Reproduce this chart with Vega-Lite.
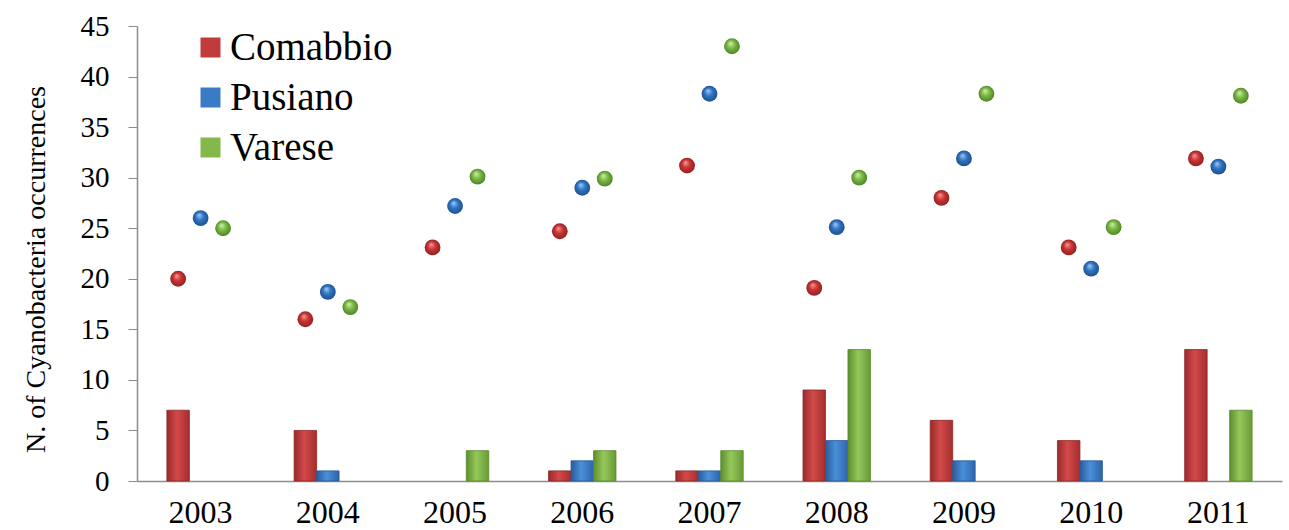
{
  "$schema": "https://vega.github.io/schema/vega-lite/v6.json",
  "width": 1145,
  "height": 455,
  "autosize": {"type": "none"},
  "padding": {"left": 137, "top": 26, "right": 7, "bottom": 49},
  "background": "white",
  "config": {
    "view": {"stroke": null},
    "font": "Liberation Serif",
    "axisY": {
      "values": [0, 5, 10, 15, 20, 25, 30, 35, 40, 45],
      "grid": false,
      "titleFont": "Liberation Serif",
      "titleFontSize": 28,
      "titleFontWeight": "normal",
      "titleColor": "#000000",
      "titleX": -101,
      "titleY": 243,
      "titleBaseline": "middle",
      "labelFont": "Liberation Serif",
      "labelFontSize": 29,
      "labelColor": "#000000",
      "labelPadding": 19,
      "tickSize": 9,
      "tickColor": "#8c8c8c",
      "domainColor": "#8c8c8c",
      "domainWidth": 1.5
    },
    "axisX": {
      "labelAngle": 0,
      "labelFont": "Liberation Serif",
      "labelFontSize": 32,
      "labelColor": "#000000",
      "labelPadding": 16,
      "ticks": false,
      "domainColor": "#8c8c8c",
      "domainWidth": 1.5
    },
    "legend": {"labelFont": "Liberation Serif", "labelLimit": 400}
  },
  "data": {
    "values": [
      {"year": "2003", "lake": "Comabbio", "bars": 7, "total": 20.0},
      {"year": "2003", "lake": "Pusiano", "bars": 0, "total": 26.0},
      {"year": "2003", "lake": "Varese", "bars": 0, "total": 25.0},
      {"year": "2004", "lake": "Comabbio", "bars": 5, "total": 16.0},
      {"year": "2004", "lake": "Pusiano", "bars": 1, "total": 18.7},
      {"year": "2004", "lake": "Varese", "bars": 0, "total": 17.2},
      {"year": "2005", "lake": "Comabbio", "bars": 0, "total": 23.1},
      {"year": "2005", "lake": "Pusiano", "bars": 0, "total": 27.2},
      {"year": "2005", "lake": "Varese", "bars": 3, "total": 30.1},
      {"year": "2006", "lake": "Comabbio", "bars": 1, "total": 24.7},
      {"year": "2006", "lake": "Pusiano", "bars": 2, "total": 29.0},
      {"year": "2006", "lake": "Varese", "bars": 3, "total": 29.9},
      {"year": "2007", "lake": "Comabbio", "bars": 1, "total": 31.2},
      {"year": "2007", "lake": "Pusiano", "bars": 1, "total": 38.3},
      {"year": "2007", "lake": "Varese", "bars": 3, "total": 43.0},
      {"year": "2008", "lake": "Comabbio", "bars": 9, "total": 19.1},
      {"year": "2008", "lake": "Pusiano", "bars": 4, "total": 25.1},
      {"year": "2008", "lake": "Varese", "bars": 13, "total": 30.0},
      {"year": "2009", "lake": "Comabbio", "bars": 6, "total": 28.0},
      {"year": "2009", "lake": "Pusiano", "bars": 2, "total": 31.9},
      {"year": "2009", "lake": "Varese", "bars": 0, "total": 38.3},
      {"year": "2010", "lake": "Comabbio", "bars": 4, "total": 23.1},
      {"year": "2010", "lake": "Pusiano", "bars": 2, "total": 21.0},
      {"year": "2010", "lake": "Varese", "bars": 0, "total": 25.1},
      {"year": "2011", "lake": "Comabbio", "bars": 13, "total": 31.9},
      {"year": "2011", "lake": "Pusiano", "bars": 0, "total": 31.1},
      {"year": "2011", "lake": "Varese", "bars": 7, "total": 38.1}
    ]
  },
  "encoding": {
    "x": {
      "field": "year",
      "type": "nominal",
      "title": null,
      "scale": {"paddingInner": 0.47, "paddingOuter": 0.235}
    },
    "xOffset": {
      "field": "lake",
      "type": "nominal",
      "sort": ["Comabbio", "Pusiano", "Varese"],
      "scale": {"domain": ["Comabbio", "Pusiano", "Varese"], "paddingInner": 0, "paddingOuter": 0}
    },
    "color": {
      "field": "lake",
      "type": "nominal",
      "sort": ["Comabbio", "Pusiano", "Varese"],
      "scale": {"domain": ["Comabbio", "Pusiano", "Varese"], "range": ["#c23b3b", "#3a7bc6", "#84b84a"]},
      "legend": {
        "title": null,
        "orient": "none",
        "legendX": 54,
        "legendY": 2,
        "symbolType": "square",
        "symbolSize": 400,
        "symbolOpacity": 1,
        "symbolStrokeWidth": 0,
        "labelFont": "Liberation Serif",
        "labelFontSize": 39,
        "labelLimit": 400,
        "labelColor": "#000000",
        "labelOffset": 0,
        "rowPadding": 10
      }
    }
  },
  "layer": [
    {
      "transform": [{"filter": "datum.lake === 'Comabbio' && datum.bars > 0"}],
      "mark": {
        "type": "bar",
        "stroke": "#8f2626",
        "strokeWidth": 0.8,
        "fill": {
          "gradient": "linear", "x1": 0, "y1": 0, "x2": 1, "y2": 0,
          "stops": [
            {"offset": 0, "color": "#9a2a2a"},
            {"offset": 0.45, "color": "#d24a4a"},
            {"offset": 1, "color": "#a52e2e"}
          ]
        }
      },
      "encoding": {
        "y": {"field": "bars", "type": "quantitative", "scale": {"domain": [0, 45]}, "title": "N. of  Cyanobacteria occurrences"}
      }
    },
    {
      "transform": [{"filter": "datum.lake === 'Pusiano' && datum.bars > 0"}],
      "mark": {
        "type": "bar",
        "stroke": "#28589a",
        "strokeWidth": 0.8,
        "fill": {
          "gradient": "linear", "x1": 0, "y1": 0, "x2": 1, "y2": 0,
          "stops": [
            {"offset": 0, "color": "#2a5b9c"},
            {"offset": 0.45, "color": "#4a90da"},
            {"offset": 1, "color": "#2f64a8"}
          ]
        }
      },
      "encoding": {
        "y": {"field": "bars", "type": "quantitative", "title": "N. of  Cyanobacteria occurrences"}
      }
    },
    {
      "transform": [{"filter": "datum.lake === 'Varese' && datum.bars > 0"}],
      "mark": {
        "type": "bar",
        "stroke": "#5a8a2c",
        "strokeWidth": 0.8,
        "fill": {
          "gradient": "linear", "x1": 0, "y1": 0, "x2": 1, "y2": 0,
          "stops": [
            {"offset": 0, "color": "#5e8e2f"},
            {"offset": 0.45, "color": "#95c85b"},
            {"offset": 1, "color": "#679a34"}
          ]
        }
      },
      "encoding": {
        "y": {"field": "bars", "type": "quantitative", "title": "N. of  Cyanobacteria occurrences"}
      }
    },
    {
      "transform": [{"filter": "datum.lake === 'Comabbio'"}],
      "mark": {
        "type": "circle", "size": 250, "opacity": 1,
        "fill": {
          "gradient": "radial", "x1": 0.4, "y1": 0.3, "r1": 0, "x2": 0.5, "y2": 0.5, "r2": 0.55,
          "stops": [
            {"offset": 0, "color": "#f3a0a0"},
            {"offset": 0.45, "color": "#cc3434"},
            {"offset": 1, "color": "#8a1e1e"}
          ]
        }
      },
      "encoding": {
        "y": {"field": "total", "type": "quantitative", "title": "N. of  Cyanobacteria occurrences"}
      }
    },
    {
      "transform": [{"filter": "datum.lake === 'Pusiano'"}],
      "mark": {
        "type": "circle", "size": 250, "opacity": 1,
        "fill": {
          "gradient": "radial", "x1": 0.4, "y1": 0.3, "r1": 0, "x2": 0.5, "y2": 0.5, "r2": 0.55,
          "stops": [
            {"offset": 0, "color": "#a5cdf5"},
            {"offset": 0.45, "color": "#3176c4"},
            {"offset": 1, "color": "#1c4a88"}
          ]
        }
      },
      "encoding": {
        "y": {"field": "total", "type": "quantitative", "title": "N. of  Cyanobacteria occurrences"}
      }
    },
    {
      "transform": [{"filter": "datum.lake === 'Varese'"}],
      "mark": {
        "type": "circle", "size": 250, "opacity": 1,
        "fill": {
          "gradient": "radial", "x1": 0.4, "y1": 0.3, "r1": 0, "x2": 0.5, "y2": 0.5, "r2": 0.55,
          "stops": [
            {"offset": 0, "color": "#d4f0b0"},
            {"offset": 0.45, "color": "#7cba45"},
            {"offset": 1, "color": "#4a7d24"}
          ]
        }
      },
      "encoding": {
        "y": {"field": "total", "type": "quantitative", "title": "N. of  Cyanobacteria occurrences"}
      }
    }
  ]
}
